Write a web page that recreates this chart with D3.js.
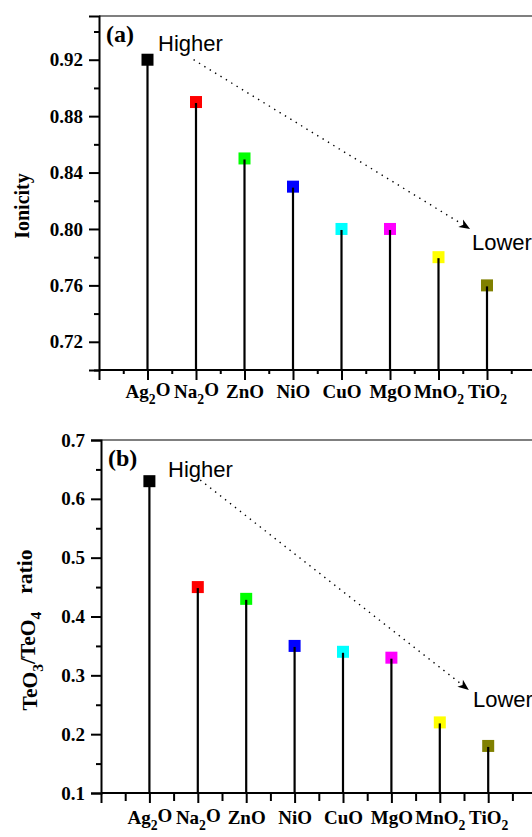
<!DOCTYPE html>
<html><head><meta charset="utf-8">
<script src="https://cdn.jsdelivr.net/npm/d3@7"></script>
<style>
body{margin:0;background:#fff;}
svg{display:block;}
.tk{font-family:"Liberation Serif","Times New Roman",serif;font-weight:bold;font-size:19px;fill:#000;}
.ttl{font-family:"Liberation Serif","Times New Roman",serif;font-weight:bold;font-size:20px;fill:#000;}
.ttl2{font-family:"Liberation Serif","Times New Roman",serif;font-weight:bold;font-size:21.5px;fill:#000;}
.ann{font-family:"Liberation Sans",Arial,sans-serif;font-size:22px;fill:#000;}
.pl{font-family:"Liberation Serif","Times New Roman",serif;font-weight:bold;font-size:24px;fill:#000;}
</style></head>
<body>
<svg id="c" width="532" height="837"></svg>
<script>
// ---- data ----
const categories = ["Ag2O","Na2O","ZnO","NiO","CuO","MgO","MnO2","TiO2"];
const colors = ["#000000","#ff0000","#00ff00","#0000ff","#00ffff","#ff00ff","#ffff00","#808000"];
const ionicity = [0.92, 0.89, 0.85, 0.83, 0.80, 0.80, 0.78, 0.76];
const teoRatio = [0.63, 0.45, 0.43, 0.35, 0.34, 0.33, 0.22, 0.18];
const ionicityTicks = [0.72, 0.76, 0.80, 0.84, 0.88, 0.92];
const ionicityMinor = [0.70, 0.74, 0.78, 0.82, 0.86, 0.90, 0.94];
const ratioTicks = [0.1, 0.2, 0.3, 0.4, 0.5, 0.6, 0.7];
const ratioMinor = [0.15, 0.25, 0.35, 0.45, 0.55, 0.65];

const svg = d3.select("#c");

function subText(sel, str){
  sel.text(null);
  const parts = str.match(/[0-9]+|[^0-9]+/g);
  let prevSub = false;
  parts.forEach(p=>{
    const t = sel.append("tspan").text(p);
    const isSub = /^[0-9]+$/.test(p);
    if(isSub){ t.attr("font-size","0.72em").attr("dy","0.38em"); }
    else if(prevSub){ t.attr("dy","-0.38em"); }
    prevSub = isSub;
  });
}

function panel(o){
  const g = svg.append("g");
  const x = d3.scaleLinear().domain([0,9]).range([o.x0, o.x0 + 9*o.step]);
  const y = d3.scaleLinear().domain(o.ydom).range([o.yb, o.yt]);

  g.append("line").attr("x1",o.x0).attr("x2",540).attr("y1",o.yt).attr("y2",o.yt)
    .attr("stroke","#555").attr("stroke-width",1.3);

  const ya = g.append("g").attr("transform",`translate(${o.x0},0)`)
    .call(d3.axisLeft(y).tickValues(o.yticks).tickFormat(o.yfmt).tickSize(10).tickPadding(6));
  ya.select(".domain").attr("stroke","#000").attr("stroke-width",2);
  ya.selectAll(".tick line").attr("stroke-width",2);
  ya.selectAll(".tick text").attr("class","tk").attr("font-size",null).attr("font-family",null);
  const ym = g.append("g").attr("transform",`translate(${o.x0},0)`)
    .call(d3.axisLeft(y).tickValues(o.yminor).tickFormat("").tickSize(5));
  ym.select(".domain").remove();
  ym.selectAll(".tick line").attr("stroke-width",2);

  const xa = g.append("g").attr("transform",`translate(0,${o.yb})`)
    .call(d3.axisBottom(x).tickValues(d3.range(0,10)).tickFormat(d=> d>=1&&d<=8?categories[d-1]:"").tickSize(10).tickPadding(o.xpad));
  xa.select(".domain").attr("stroke","#000").attr("stroke-width",2).attr("d",`M${o.x0},0H540`);
  xa.selectAll(".tick line").attr("stroke-width",2);
  xa.selectAll(".tick text").attr("class","tk").attr("font-size",null).attr("font-family",null)
    .attr("dy","0.71em").each(function(d){ if(d>=1&&d<=8) subText(d3.select(this), categories[d-1]); });
  const xm = g.append("g").attr("transform",`translate(0,${o.yb})`)
    .call(d3.axisBottom(x).tickValues(d3.range(0.5,9,1)).tickFormat("").tickSize(o.xminor));
  xm.select(".domain").remove();
  xm.selectAll(".tick line").attr("stroke-width",2);

  g.selectAll(".mk").data(o.vals).enter().append("rect")
    .attr("x",(d,i)=>x(i+1)-6).attr("y",d=>y(d)-6).attr("width",12).attr("height",12)
    .attr("fill",(d,i)=>colors[i]);
  g.selectAll(".stem").data(o.vals).enter().append("line")
    .attr("x1",(d,i)=>x(i+1)).attr("x2",(d,i)=>x(i+1))
    .attr("y1",o.yb).attr("y2",d=>y(d)+1)
    .attr("stroke","#000").attr("stroke-width",2.2);

  const ax1=x(o.arrow[0]), ay1=y(o.arrow[1]), ax2=x(o.arrow[2]), ay2=y(o.arrow[3]);
  const ang = Math.atan2(ay2-ay1, ax2-ax1);
  const hl=11, hw=4.5;
  const bx = ax2 - hl*Math.cos(ang), by = ay2 - hl*Math.sin(ang);
  g.append("line").attr("x1",ax1).attr("y1",ay1).attr("x2",bx).attr("y2",by)
    .attr("stroke","#000").attr("stroke-width",1.4).attr("stroke-dasharray","1.4,4.9");
  g.append("path").attr("d",`M${ax2},${ay2}L${bx - hw*Math.sin(ang)},${by + hw*Math.cos(ang)}L${bx + 3*Math.cos(ang)},${by+3*Math.sin(ang)}L${bx + hw*Math.sin(ang)},${by - hw*Math.cos(ang)}Z`)
    .attr("fill","#000");

  g.append("text").attr("class","pl").attr("x",o.x0+7).attr("y",o.plY).text(o.pl);
  g.append("text").attr("class","ann").attr("x",o.hiX).attr("y",o.hiY).text("Higher");
  g.append("text").attr("class","ann").attr("x",o.loX).attr("y",o.loY).text("Lower");
  return g;
}

panel({x0:99, step:48.5, ydom:[0.70,0.951], yb:370, yt:16, yticks:ionicityTicks, yminor:ionicityMinor,
  yfmt:d3.format(".2f"), xpad:5, xminor:4, vals:ionicity, arrow:[1.95,0.92,7.65,0.8],
  pl:"(a)", plY:42, hiX:158, hiY:51, loX:472, loY:250});
panel({x0:101, step:48.4, ydom:[0.1,0.7], yb:793, yt:440, yticks:ratioTicks, yminor:ratioMinor,
  yfmt:d3.format(".1f"), xpad:8, xminor:8, vals:teoRatio, arrow:[2.05,0.632,7.6,0.275],
  pl:"(b)", plY:466, hiX:168, hiY:477, loX:473, loY:707});

svg.append("text").attr("class","ttl").attr("transform","translate(29,206) rotate(-90)")
  .attr("text-anchor","middle").text("Ionicity");
const t2 = svg.append("text").attr("class","ttl2").attr("transform","translate(37,630) rotate(-90)")
  .attr("text-anchor","middle");
t2.append("tspan").text("TeO");
t2.append("tspan").attr("font-size","0.72em").attr("dy","0.38em").text("3");
t2.append("tspan").attr("dy","-0.38em").text("/TeO");
t2.append("tspan").attr("font-size","0.72em").attr("dy","0.38em").text("4");
t2.append("tspan").attr("dy","-0.38em").attr("dx","18").text("ratio");
</script>
</body></html>
